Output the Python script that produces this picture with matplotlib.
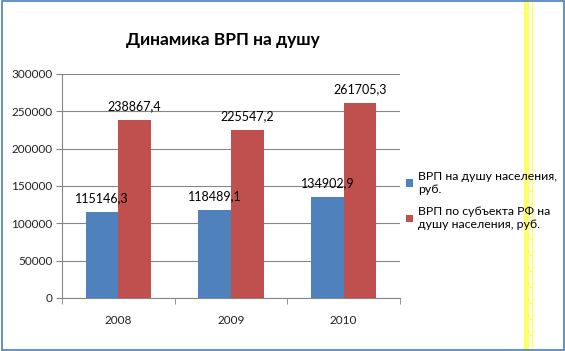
import matplotlib
matplotlib.use("Agg")
import matplotlib.pyplot as plt
from matplotlib.patches import Rectangle
from matplotlib.lines import Line2D
import numpy as np

plt.rcParams['font.family'] = ['Lato', 'DejaVu Sans']

years = ["2008", "2009", "2010"]
series_names = ["ВРП на душу населения,\nруб.", "ВРП по субъекта РФ на\nдушу населения, руб."]
vrp_per_capita = [115146.3, 118489.1, 134902.9]
vrp_subject = [238867.4, 225547.2, 261705.3]
label_a = ["115146,3", "118489,1", "134902,9"]
label_b = ["238867,4", "225547,2", "261705,3"]
colors = ["#4F81BD", "#C0504D"]

W, H = 565, 351
fig = plt.figure(figsize=(W / 100, H / 100), dpi=100)
ax = fig.add_axes([62 / W, 1 - 298 / H, (400 - 62) / W, (298 - 74) / H])

x = np.arange(len(years))
bw = 0.29
b1 = ax.bar(x - bw / 2, vrp_per_capita, bw, color=colors[0], label=series_names[0], zorder=3)
b2 = ax.bar(x + bw / 2, vrp_subject, bw, color=colors[1], label=series_names[1], zorder=3)

for bars, labs in ((b1, label_a), (b2, label_b)):
    for r, t in zip(bars, labs):
        ax.annotate(t, (r.get_x() + r.get_width() / 2, r.get_height()),
                    xytext=(0, 5.5), textcoords="offset points", ha="center", va="bottom",
                    fontsize=9, color="black", zorder=4)

ax.set_xlim(-0.5, 2.5)
ax.set_ylim(0, 300000)
ax.set_yticks(np.arange(0, 300001, 50000))
ax.set_xticks(x)
ax.set_xticklabels(years)
ax.set_xticks([-0.5, 0.5, 1.5, 2.5], minor=True)
ax.tick_params(axis='x', which='major', length=0, pad=12, labelsize=8.5, labelcolor="#222222")
ax.tick_params(axis='x', which='minor', length=4, color="#868686")
ax.tick_params(axis='y', length=4, color="#868686", labelsize=8.5, pad=3, labelcolor="#222222")
ax.grid(axis='y', color="#868686", linewidth=0.8, zorder=0)
for s in ("top", "right"):
    ax.spines[s].set_visible(False)
for s in ("left", "bottom"):
    ax.spines[s].set_color("#868686")
    ax.spines[s].set_linewidth(0.8)

fig.text(223 / W, 1 - 40 / H, "Динамика ВРП на душу", ha="center", va="center",
         fontsize=12.5, fontweight="bold")

fig.legend(handles=[b1, b2], labels=series_names, loc="upper left",
           bbox_to_anchor=(406 / W, 1 - 171 / H), frameon=False, fontsize=8.8,
           handlelength=0.6, handleheight=0.6, handletextpad=0.4,
           labelspacing=0.95, borderpad=0, borderaxespad=0)

# yellow page-marker lines
fig.add_artist(Rectangle((524 / W, 0), 3.5 / W, 1, transform=fig.transFigure,
                         color="#FFFF66", zorder=5))
fig.add_artist(Line2D([532 / W, 532 / W], [0, 1], transform=fig.transFigure,
                      color="#FFFF66", linewidth=1, zorder=5))
for yy in range(191, 348, 16):
    fig.add_artist(Line2D([527.5 / W, 532 / W], [1 - yy / H, 1 - yy / H],
                          transform=fig.transFigure, color="#FFFF66",
                          linewidth=1, zorder=5))
# blue frame
fig.add_artist(Rectangle((1.5 / W, 1 / H), 562.5 / W, 349 / H, transform=fig.transFigure,
                         fill=False, edgecolor="#4A7EBB", linewidth=1.2, zorder=6))

fig.savefig("out.png", dpi=100)
